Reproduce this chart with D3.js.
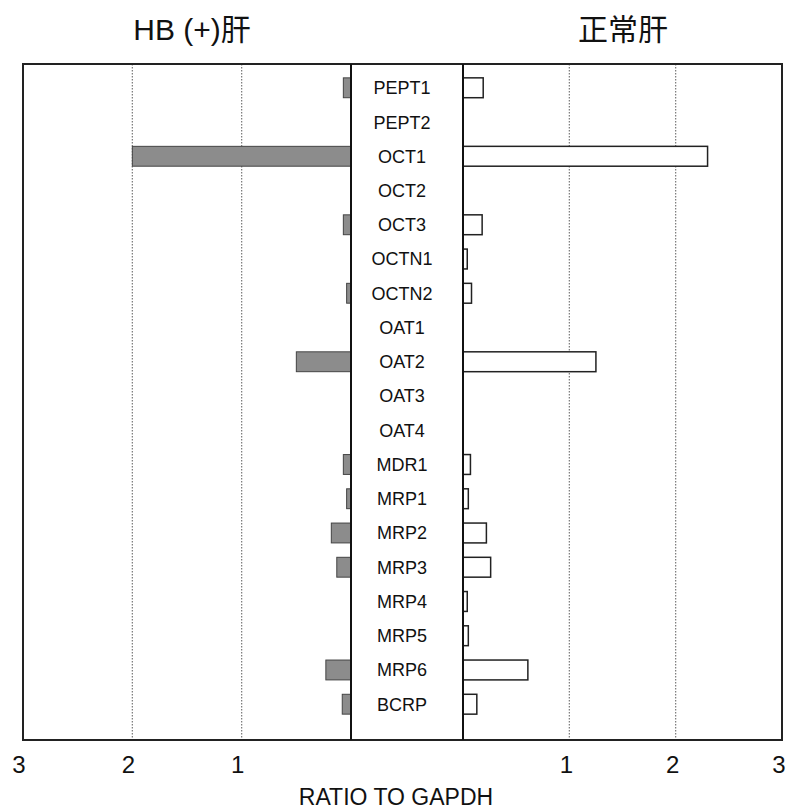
<!DOCTYPE html>
<html>
	<head>
		<meta charset="utf-8">
		<title>HB (+) liver vs normal liver transporter expression</title>
		<style>
* {
	margin: 0;
	padding: 0;
}
body {
	background-color: #fff;
}
svg {
	display: block;
}
text {
	font-family: "Liberation Sans", Arial, sans-serif;
	fill: #111;
}
		</style>
	</head>
	<body>
		<div id="chart"></div>
		<script src="https://cdn.jsdelivr.net/npm/d3@7"></script>
		<script>

var genes = [ 'PEPT1', 'PEPT2', 'OCT1', 'OCT2', 'OCT3', 'OCTN1', 'OCTN2', 'OAT1', 'OAT2',
	'OAT3', 'OAT4', 'MDR1', 'MRP1', 'MRP2', 'MRP3', 'MRP4', 'MRP5', 'MRP6', 'BCRP' ];

// ratio to GAPDH, HB(+) liver (left) and normal liver (right)
var hbValues = [ 0.07, 0, 2.0, 0, 0.07, 0, 0.04, 0, 0.5,
	0, 0, 0.07, 0.04, 0.18, 0.13, 0, 0, 0.23, 0.08 ];
var normalValues = [ 0.19, 0, 2.3, 0, 0.18, 0.04, 0.08, 0, 1.25,
	0, 0, 0.07, 0.05, 0.22, 0.26, 0.04, 0.05, 0.61, 0.13 ];

var tickValues = [ 1, 2, 3 ];
var titles = [ 'HB (+)肝', '正常肝' ];
var axisTitle = 'RATIO TO GAPDH';

var width = 787;
var height = 809;
var frameTop = 64;
var frameBottom = 740;

var svg = d3.select( '#chart' ).append( 'svg' )
	.attr( 'width', width )
	.attr( 'height', height );

var xLeft = d3.scaleLinear().domain( [ 0, 3 ] ).range( [ 351, 23 ] );
var xRight = d3.scaleLinear().domain( [ 0, 3 ] ).range( [ 463, 782 ] );

var y = d3.scaleBand()
	.domain( genes )
	.range( [ 71, 721 ] )
	.paddingInner( 0.42 )
	.paddingOuter( 0.2 );

// dotted grid lines
[ xLeft, xRight ].forEach( function ( x ) {
	svg.append( 'g' ).selectAll( 'line' )
		.data( [ 1, 2 ] )
		.enter()
		.append( 'line' )
		.attr( 'x1', function ( d ) { return x( d ); } )
		.attr( 'x2', function ( d ) { return x( d ); } )
		.attr( 'y1', frameTop )
		.attr( 'y2', frameBottom )
		.style( 'stroke', '#777' )
		.style( 'stroke-width', 1.2 )
		.style( 'stroke-dasharray', '1.5,1.5' );
} );

// HB(+) bars
svg.append( 'g' ).selectAll( 'rect' )
	.data( genes.map( function ( g, i ) { return { gene: g, v: hbValues[i] }; } ).filter( function ( d ) { return d.v > 0; } ) )
	.enter()
	.append( 'rect' )
	.attr( 'x', function ( d ) { return xLeft( d.v ); } )
	.attr( 'y', function ( d ) { return y( d.gene ); } )
	.attr( 'width', function ( d ) { return xLeft( 0 ) - xLeft( d.v ); } )
	.attr( 'height', y.bandwidth() )
	.style( 'fill', '#8c8c8c' )
	.style( 'stroke', '#444' )
	.style( 'stroke-width', 1 );

// normal liver bars
svg.append( 'g' ).selectAll( 'rect' )
	.data( genes.map( function ( g, i ) { return { gene: g, v: normalValues[i] }; } ).filter( function ( d ) { return d.v > 0; } ) )
	.enter()
	.append( 'rect' )
	.attr( 'x', xRight( 0 ) )
	.attr( 'y', function ( d ) { return y( d.gene ); } )
	.attr( 'width', function ( d ) { return xRight( d.v ) - xRight( 0 ); } )
	.attr( 'height', y.bandwidth() )
	.style( 'fill', '#fff' )
	.style( 'stroke', '#222' )
	.style( 'stroke-width', 1.5 );

// frame and centre strip
svg.append( 'rect' )
	.attr( 'x', xLeft( 3 ) )
	.attr( 'y', frameTop )
	.attr( 'width', xRight( 3 ) - xLeft( 3 ) )
	.attr( 'height', frameBottom - frameTop )
	.style( 'fill', 'none' )
	.style( 'stroke', '#222' )
	.style( 'stroke-width', 2 );

svg.append( 'g' ).selectAll( 'line' )
	.data( [ xLeft( 0 ), xRight( 0 ) ] )
	.enter()
	.append( 'line' )
	.attr( 'x1', function ( d ) { return d; } )
	.attr( 'x2', function ( d ) { return d; } )
	.attr( 'y1', frameTop )
	.attr( 'y2', frameBottom )
	.style( 'stroke', '#111' )
	.style( 'stroke-width', 2 );

// gene labels
svg.append( 'g' ).selectAll( 'text' )
	.data( genes )
	.enter()
	.append( 'text' )
	.attr( 'x', 402 )
	.attr( 'y', function ( d ) { return y( d ) + y.bandwidth() / 2; } )
	.attr( 'dy', '0.36em' )
	.attr( 'text-anchor', 'middle' )
	.style( 'font-size', '18px' )
	.text( function ( d ) { return d; } );

// tick labels
[ xLeft, xRight ].forEach( function ( x ) {
	svg.append( 'g' ).selectAll( 'text' )
		.data( tickValues )
		.enter()
		.append( 'text' )
		.attr( 'x', function ( d ) { return x( d ) + ( x === xLeft ? -4 : -3 ); } )
		.attr( 'y', 773 )
		.attr( 'text-anchor', 'middle' )
		.style( 'font-size', '24px' )
		.text( function ( d ) { return d; } );
} );

svg.append( 'text' )
	.attr( 'x', 396 )
	.attr( 'y', 805 )
	.attr( 'text-anchor', 'middle' )
	.style( 'font-size', '23px' )
	.text( axisTitle );

// panel titles
svg.append( 'g' ).selectAll( 'text' )
	.data( titles )
	.enter()
	.append( 'text' )
	.attr( 'x', function ( d, i ) { return i === 0 ? 192 : 623; } )
	.attr( 'y', 40 )
	.attr( 'text-anchor', 'middle' )
	.style( 'font-family', '"Liberation Sans", "Noto Sans CJK JP", sans-serif' )
	.style( 'font-size', '30px' )
	.text( function ( d ) { return d; } );

		</script>
	</body>
</html>
